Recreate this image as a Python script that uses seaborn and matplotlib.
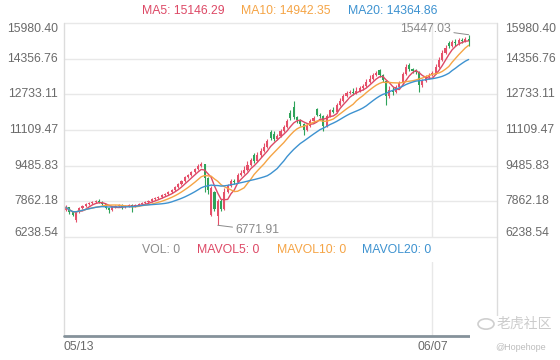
import numpy as np
import pandas as pd
import matplotlib
matplotlib.use("Agg")
import matplotlib.pyplot as plt
import seaborn as sns
from matplotlib.patches import Rectangle, Circle
from matplotlib.lines import Line2D

# ---------------- data ----------------
opens = [7480, 7590, 7360, 7000, 7360, 7540, 7640, 7730, 7770, 7820,
         7900, 7820, 7730, 7540, 7450, 7590, 7640, 7680, 7590, 7640,
         7680, 7640, 7680, 7730, 7770, 7820, 7860, 7950, 8000, 8050,
         8140, 8180, 8270, 8370, 8500, 8640, 8780, 8960, 9050, 9190,
         9320, 9460, 9550, 8910, 7250, 8300, 7200, 7900, 7500, 8300,
         8550, 8800, 8750, 9050, 9150, 9300, 9500, 9950, 9700, 9950,
         10150, 10350, 11000, 10950, 10700, 10850, 11050, 11250, 11900, 12150,
         11700, 11550, 11400, 11100, 11300, 11500, 12050, 11800, 11750, 11300,
         11750, 12000, 11950, 12250, 12450, 12650, 12800, 12850, 12800, 12900,
         13000, 13100, 13300, 13450, 13600, 13850, 13600, 13350, 12650, 12950,
         12850, 13050, 13250, 13650, 14050, 13900, 13800, 13750, 13150, 13350,
         13500, 13600, 13700, 14000, 14300, 14600, 15050, 14950, 15100, 15050,
         15200, 15150, 15250]
highs = [7700, 7620, 7400, 7400, 7600, 7680, 7780, 7820, 7880, 7920,
         7950, 7860, 7760, 7580, 7640, 7700, 7740, 7720, 7700, 7740,
         7720, 7730, 7770, 7810, 7860, 7910, 8000, 8060, 8110, 8200,
         8240, 8340, 8420, 8560, 8700, 8840, 9030, 9120, 9260, 9400,
         9560, 9650, 9580, 8950, 8550, 8350, 7950, 7950, 8450, 8650,
         8900, 8900, 9150, 9280, 9450, 9700, 9850, 10050, 10100, 10300,
         10500, 10700, 11100, 11050, 10950, 11150, 11350, 11600, 12000, 12420,
         11750, 11600, 11450, 11400, 11600, 11750, 12100, 11900, 11800, 11850,
         12050, 12150, 12350, 12550, 12750, 12900, 12950, 13000, 13050, 13100,
         13200, 13450, 13600, 13700, 13800, 13900, 13650, 13400, 13100, 13050,
         13150, 13350, 13750, 14100, 14150, 13950, 13900, 13800, 13450, 13600,
         13700, 13800, 14100, 14450, 14750, 15000, 15150, 15200, 15250, 15300,
         15300, 15350, 15447.03]
lows = [7420, 7300, 7180, 6910, 7330, 7500, 7600, 7700, 7740, 7790,
        7780, 7680, 7500, 7310, 7420, 7560, 7600, 7520, 7560, 7610,
        7360, 7610, 7650, 7700, 7740, 7790, 7840, 7920, 7980, 8020,
        8110, 8150, 8240, 8340, 8470, 8600, 8750, 8920, 9010, 9150,
        9280, 9420, 8270, 8200, 7200, 7400, 6771.91, 7400, 7450, 8250,
        8500, 8650, 8700, 9000, 9100, 9250, 9450, 9600, 9650, 9900,
        10100, 10300, 10650, 10600, 10650, 10800, 11000, 11200, 11550, 11600,
        11450, 11300, 10870, 11050, 11250, 11450, 11750, 11650, 11050, 11250,
        11700, 11900, 11900, 12200, 12400, 12600, 12750, 12700, 12750, 12850,
        12950, 13050, 13250, 13400, 13550, 13500, 13300, 12250, 12550, 12700,
        12800, 13000, 13200, 13600, 13800, 13700, 13650, 12850, 13050, 13300,
        13450, 13550, 13650, 13950, 14250, 14550, 14850, 14900, 14950, 15000,
        15050, 15100, 14950]
closes = [7590, 7360, 7230, 7360, 7540, 7640, 7730, 7770, 7820, 7860,
          7820, 7730, 7540, 7450, 7590, 7640, 7680, 7590, 7640, 7680,
          7640, 7680, 7730, 7770, 7820, 7860, 7950, 8000, 8050, 8140,
          8180, 8270, 8370, 8500, 8640, 8780, 8960, 9050, 9190, 9320,
          9460, 9550, 8910, 8370, 8480, 7500, 7900, 7500, 8300, 8550,
          8800, 8750, 9050, 9150, 9300, 9500, 9750, 9700, 9950, 10150,
          10350, 10600, 10750, 10700, 10850, 11050, 11250, 11500, 11650, 11700,
          11550, 11400, 11100, 11300, 11500, 11650, 11800, 11750, 11300, 11750,
          12000, 11950, 12250, 12450, 12650, 12800, 12850, 12800, 12900, 13000,
          13100, 13300, 13450, 13600, 13700, 13600, 13400, 12650, 12950, 12850,
          13050, 13250, 13650, 14000, 13900, 13800, 13750, 13150, 13350, 13500,
          13600, 13700, 14000, 14300, 14600, 14850, 14950, 15100, 15050, 15200,
          15150, 15250, 15180]

date_labels = ["05/13", "06/07"]
date_positions = [0, 111]
price_ticks = [6238.54, 7862.18, 9485.83, 11109.47, 12733.11, 14356.76, 15980.40]
ma_windows = [5, 10, 20]
ma_header = ["MA5: 15146.29", "MA10: 14942.35", "MA20: 14364.86"]
vol_header = ["VOL: 0", "MAVOL5: 0", "MAVOL10: 0", "MAVOL20: 0"]
max_price = 15447.03
min_price = 6771.91

# ---------------- style ----------------
W, H = 560, 360
sns.set_style("white")
plt.rcParams["font.family"] = ["Liberation Sans", "DejaVu Sans"]

RED = "#e5506a"
GREEN = "#2ea35a"
C_MA5 = "#dd4966"
C_MA10 = "#f5a445"
C_MA20 = "#3d92d0"
GRID = "#e8e8e8"
BORDER = "#dcdcdc"
TXT = "#6a6a6a"
FS = 8.8


def fx(x):
    return x / W


def fy(y):
    return 1 - y / H


fig = plt.figure(figsize=(W / 100, H / 100), dpi=100)
fig.patch.set_facecolor("white")

L, R = 64, 497
T1, B1 = 23, 237
T2, B2 = 262, 336
ax = fig.add_axes([fx(L), fy(B1), (R - L) / W, (B1 - T1) / H])
axv = fig.add_axes([fx(L), fy(B2), (R - L) / W, (B2 - T2) / H])

idx = np.arange(len(closes))
o = np.array(opens, float)
h = np.array(highs, float)
l = np.array(lows, float)
c = np.array(closes, float)

df = pd.DataFrame({"i": idx, "close": c})
for w in ma_windows:
    df[f"MA{w}"] = df["close"].rolling(w, min_periods=1).mean()

xlim = (-0.6, 130.6)
for a in (ax, axv):
    a.set_xlim(*xlim)
    a.set_facecolor("white")
    for s in a.spines.values():
        s.set_visible(False)
    a.tick_params(length=0, labelleft=False, labelbottom=False)
    a.set_xlabel("")
    a.set_ylabel("")

ax.set_ylim(price_ticks[0], price_ticks[-1])

# grid
for t in price_ticks:
    ax.axhline(t, color=GRID, lw=1, zorder=0, clip_on=False)
ax.axvline(date_positions[1], color=GRID, lw=1, zorder=0)
axv.axvline(date_positions[1], color=GRID, lw=1, zorder=0)
axv.set_ylim(0, 1)

# candles
up = c >= o
cols = np.where(up, RED, GREEN)
ax.vlines(idx, l, h, colors=cols, lw=0.8, zorder=2)
body_bottom = np.minimum(o, c)
body_h = np.maximum(np.abs(c - o), 30)
ax.bar(idx, body_h, bottom=body_bottom, width=0.62, color=cols, linewidth=0, zorder=3)

# moving averages
for w, col in zip(ma_windows, [C_MA5, C_MA10, C_MA20]):
    sns.lineplot(data=df, x="i", y=f"MA{w}", ax=ax, color=col, lw=1.0, zorder=4)
ax.set_xlabel("")
ax.set_ylabel("")
ax.set_xticks([])
axv.set_xticks([])
axv.set_yticks([])

# y labels both sides
for k, t in enumerate(price_ticks):
    dy = 0
    if k == len(price_ticks) - 1:
        dy = -6
    elif k == 0:
        dy = 4
    ax.annotate(f"{t:.2f}", xy=(0, t), xycoords=("axes fraction", "data"),
                xytext=(-6, dy), textcoords="offset pixels", ha="right", va="center",
                fontsize=FS, color=TXT, annotation_clip=False)
    ax.annotate(f"{t:.2f}", xy=(1, t), xycoords=("axes fraction", "data"),
                xytext=(8, dy), textcoords="offset pixels", ha="left", va="center",
                fontsize=FS, color=TXT, annotation_clip=False)

# max / min annotations
imax = int(np.argmax(h))
imin = int(np.argmin(l))
ax.annotate(f"{max_price:.2f}", xy=(imax, max_price), xytext=(-18, 6),
            textcoords="offset pixels", ha="right", va="center", fontsize=FS,
            color="#8a8a8a", annotation_clip=False,
            arrowprops=dict(arrowstyle="-", color="#8a8a8a", lw=0.7, shrinkA=0, shrinkB=0))
ax.annotate(f"{min_price:.2f}", xy=(imin, min_price), xytext=(18, -5),
            textcoords="offset pixels", ha="left", va="center", fontsize=FS,
            color="#8a8a8a", annotation_clip=False,
            arrowprops=dict(arrowstyle="-", color="#8a8a8a", lw=0.7, shrinkA=0, shrinkB=0))

# borders
fig.add_artist(Line2D([fx(L), fx(L)], [fy(T1), fy(B2)], color=BORDER, lw=1))
fig.add_artist(Line2D([fx(R), fx(R)], [fy(T1), fy(B2)], color=BORDER, lw=1))
fig.add_artist(Line2D([fx(L), fx(R)], [fy(B2), fy(B2)], color="#85929a", lw=2))

# headers
for txt, x0, col in zip(ma_header, [142, 241, 348], [C_MA5, C_MA10, C_MA20]):
    fig.text(fx(x0), fy(11), txt, ha="left", va="center", fontsize=FS, color=col)
for txt, x0, col in zip(vol_header, [142, 197, 277, 362], ["#8c8c8c", C_MA5, C_MA10, C_MA20]):
    fig.text(fx(x0), fy(250), txt, ha="left", va="center", fontsize=FS, color=col)

# dates
fig.text(fx(L), fy(347), date_labels[0], ha="left", va="center", fontsize=FS, color=TXT)
x_date2 = L + (date_positions[1] - xlim[0]) / (xlim[1] - xlim[0]) * (R - L)
fig.text(fx(x_date2), fy(347), date_labels[1], ha="center", va="center", fontsize=FS, color=TXT)

# watermark
fig.add_artist(Rectangle((fx(470), 0), fx(90), fy(316), transform=fig.transFigure,
                         facecolor="white", edgecolor="none", zorder=5))
fig.add_artist(Circle((fx(486), fy(324)), 8 / W, transform=fig.transFigure,
                      facecolor="none", edgecolor="#cfcfcf", lw=1.2, zorder=6))
fig.text(fx(497), fy(324), "老虎社区", ha="left", va="center", fontsize=10,
         color="#cccccc", family=["Noto Sans CJK SC", "DejaVu Sans"], zorder=7)
fig.text(fx(495), fy(348), "@Hopehope", ha="left", va="center", fontsize=6.5,
         color="#bdbdbd", zorder=7)

fig.savefig("out.png", dpi=100, facecolor="white")
